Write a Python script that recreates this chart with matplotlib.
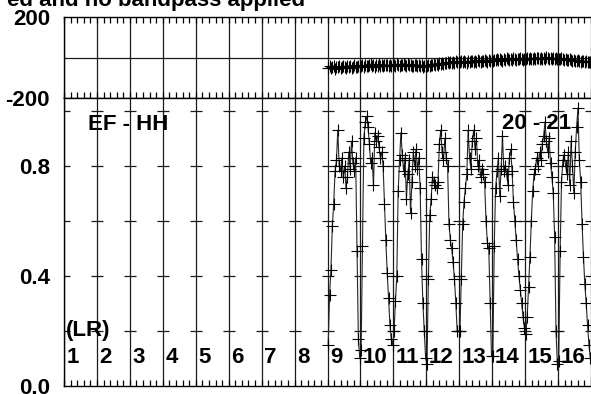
import numpy as np
import matplotlib.pyplot as plt

plt.rcParams['font.family'] = ['Liberation Sans', 'DejaVu Sans']
plt.rcParams['font.weight'] = 'bold'

# IF numbers shown along the bottom, and which IFs carry data
if_labels = [str(i) for i in range(1, 17)]
data_ifs = [9, 10, 11, 12, 13, 14, 15, 16]
n_chan = 24

# amplitude per channel, one list per IF (9..16)
amp_if9 = [0.15, 0.33, 0.42, 0.58, 0.66, 0.78, 0.82, 0.93, 0.80, 0.78, 0.83, 0.76,
           0.80, 0.72, 0.76, 0.85, 0.79, 0.89, 0.81, 0.78, 0.83, 0.49, 0.17, 0.10]
amp_if10 = [0.13, 0.51, 0.90, 0.96, 0.98, 0.94, 0.88, 0.81, 0.83, 0.73, 0.92, 0.89,
            0.91, 0.87, 0.83, 0.85, 0.80, 0.66, 0.53, 0.41, 0.32, 0.22, 0.17, 0.15]
amp_if11 = [0.20, 0.31, 0.40, 0.71, 0.82, 0.92, 0.84, 0.78, 0.83, 0.68, 0.77, 0.82,
            0.63, 0.74, 0.85, 0.80, 0.86, 0.79, 0.83, 0.72, 0.46, 0.30, 0.20, 0.10]
amp_if12 = [0.08, 0.39, 0.62, 0.68, 0.76, 0.74, 0.73, 0.72, 0.74, 0.88, 0.93, 0.85,
            0.82, 0.90, 0.83, 0.80, 0.59, 0.53, 0.50, 0.45, 0.39, 0.30, 0.20, 0.20]
amp_if13 = [0.20, 0.39, 0.59, 0.67, 0.72, 0.77, 0.93, 0.83, 0.79, 0.89, 0.93, 0.86,
            0.90, 0.80, 0.82, 0.76, 0.79, 0.77, 0.74, 0.60, 0.52, 0.50, 0.30, 0.11]
amp_if14 = [0.11, 0.51, 0.72, 0.78, 0.83, 0.69, 0.79, 0.91, 0.78, 0.80, 0.77, 0.73,
            0.83, 0.86, 0.78, 0.67, 0.60, 0.53, 0.46, 0.40, 0.35, 0.30, 0.25, 0.21]
amp_if15 = [0.19, 0.25, 0.36, 0.47, 0.60, 0.71, 0.77, 0.79, 0.83, 0.80, 0.85, 0.82,
            0.88, 0.91, 0.96, 0.89, 0.85, 0.90, 0.81, 0.76, 0.70, 0.54, 0.20, 0.08]
amp_if16 = [0.09, 0.49, 0.74, 0.82, 0.84, 0.80, 0.77, 0.85, 0.73, 0.89, 0.80, 0.70,
            0.85, 0.94, 1.01, 0.82, 0.74, 0.59, 0.47, 0.37, 0.30, 0.22, 0.15, 0.10]

# phase (degrees) per channel, one list per IF (9..16)
ph_if9 = [-50, -44, -52, -47, -41, -55, -46, -49, -43, -51, -45, -40,
          -48, -53, -44, -47, -42, -50, -46, -39, -45, -48, -43, -41]
ph_if10 = [-42, -38, -46, -35, -40, -44, -37, -33, -41, -39, -45, -36,
           -40, -34, -42, -38, -43, -35, -39, -37, -41, -36, -44, -38]
ph_if11 = [-36, -40, -33, -38, -42, -35, -39, -31, -37, -41, -34, -38,
           -36, -43, -40, -35, -39, -44, -37, -41, -38, -46, -42, -40]
ph_if12 = [-44, -38, -41, -36, -39, -33, -37, -30, -35, -28, -33, -27,
           -31, -25, -29, -24, -28, -22, -26, -21, -25, -19, -23, -20]
ph_if13 = [-24, -18, -22, -16, -20, -25, -17, -21, -15, -19, -23, -16,
           -20, -14, -18, -22, -15, -19, -13, -17, -21, -14, -18, -12]
ph_if14 = [-16, -10, -14, -8, -12, -6, -11, -15, -7, -10, -4, -9,
           -13, -6, -10, -3, -8, -12, -5, -9, -2, -7, -11, -6]
ph_if15 = [-8, -3, -7, -1, -5, -9, -2, -6, 0, -4, -8, -1,
           -5, -3, -7, 2, -4, -6, -1, -5, -3, -8, -2, -6]
ph_if16 = [-5, -9, -3, -7, -11, -6, -10, -14, -8, -12, -16, -10,
           -15, -19, -13, -17, -21, -15, -19, -23, -18, -22, -20, -24]

amp = np.concatenate([amp_if9, amp_if10, amp_if11, amp_if12,
                      amp_if13, amp_if14, amp_if15, amp_if16])
phase = np.concatenate([ph_if9, ph_if10, ph_if11, ph_if12,
                        ph_if13, ph_if14, ph_if15, ph_if16])

# x position: IF i spans [i-1, i], channels spread evenly inside it
chan = np.arange(1, n_chan + 1)
xpos = np.concatenate([(i - 1) + (chan - 0.5) / n_chan for i in data_ifs])

W, H = 591, 394
fig = plt.figure(figsize=(W / 100, H / 100), dpi=100)

left_px, right_px = 64, 591
if_px = 33.07
xmax = (right_px - left_px) / if_px

def px_axes(x0, y0, x1, y1):
    return fig.add_axes([x0 / W, 1 - y1 / H, (x1 - x0) / W, (y1 - y0) / H])

ax_ph = px_axes(left_px, 17, right_px, 98)
ax_amp = px_axes(left_px, 98, right_px, 386)

bounds = np.arange(0, 17)
fs = 16

for ax in (ax_ph, ax_amp):
    ax.set_xlim(0, xmax)
    ax.spines['right'].set_visible(False)
    for s in ax.spines.values():
        s.set_linewidth(1.0)
    for b in bounds:
        ax.axvline(b, color='0.1', lw=0.9, zorder=1)
    ax.set_xticks(bounds)
    ax.set_xticks(np.arange(0, 16.01, 0.2), minor=True)
    ax.set_xticklabels([])
    ax.tick_params(axis='x', which='both', direction='in', length=4, width=0.9,
                   bottom=True, top=True)

# phase panel
ax_ph.set_ylim(-200, 200)
ax_ph.axhline(0, color='0.1', lw=0.9, zorder=1)
ax_ph.set_yticks([-200, 200])
ax_ph.set_yticklabels(['-200', '200'], fontsize=fs, fontweight='bold')
ax_ph.tick_params(axis='y', length=0, pad=10)
ax_ph.plot(xpos, phase, color='0.15', lw=0.8, marker='+', ms=8, mew=0.8,
           mec='black', zorder=3)

# amplitude panel
ax_amp.set_ylim(0, 1.047)
ax_amp.set_yticks([0.0, 0.4, 0.8])
ax_amp.set_yticklabels(['0.0', '0.4', '0.8'], fontsize=fs, fontweight='bold')
ax_amp.tick_params(axis='y', length=0, pad=10)
ax_amp.tick_params(axis='x', which='both', top=False)

tick_y = [0.2, 0.4, 0.6, 0.8, 1.0]
for b in bounds:
    ax_amp.plot([b] * len(tick_y), tick_y, linestyle='none', marker='_',
                ms=8, mew=0.9, color='0.1', zorder=2)

ax_amp.plot(xpos, amp, color='0.15', lw=0.8, marker='+', ms=8, mew=0.8,
            mec='black', zorder=3)

for i, lab in enumerate(if_labels):
    ax_amp.text(i + 0.08, 0.105, lab, fontsize=fs, fontweight='bold',
                ha='left', va='center', zorder=4)
ax_amp.text(0.05, 0.2, '(LR)', fontsize=fs, fontweight='bold',
            ha='left', va='center', zorder=4)
ax_amp.text(0.72, 0.95, 'EF - HH', fontsize=fs, fontweight='bold',
            ha='left', va='center', zorder=4)
ax_amp.text(13.3, 0.953, '20 - 21', fontsize=fs, fontweight='bold',
            ha='left', va='center', zorder=4)

fig.text(305 / W, 1 - 6 / H, 'ed and no bandpass applied', fontsize=fs,
         fontweight='bold', ha='right', va='baseline')

fig.savefig('out.png', dpi=100)
